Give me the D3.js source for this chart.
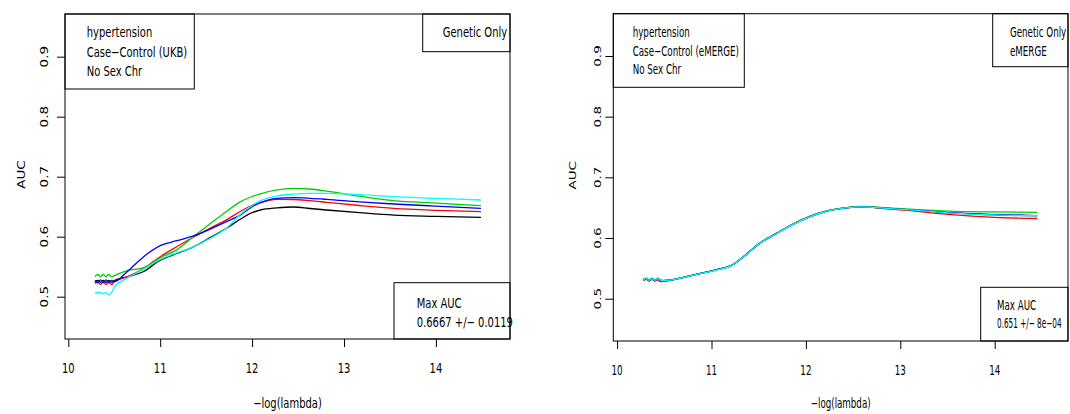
<!DOCTYPE html>
<html>
<head>
<meta charset="utf-8">
<script src="https://cdn.jsdelivr.net/npm/d3@7"></script>
<style>
  body { margin: 0; background: #fff; }
  svg { display: block; }
  text { font-family: "DejaVu Sans", sans-serif; fill: #000; }
</style>
</head>
<body>
<div id="chart"></div>
<script>
// series colours, R matplot order
var seriesNames = ["black", "red", "green3", "blue", "cyan"]
var seriesColors = ["#000000", "#ff0000", "#00cd00", "#0000ff", "#00ffff"]
var xTicks = [10, 11, 12, 13, 14]
var yTicks = [0.5, 0.6, 0.7, 0.8, 0.9]

// left panel: UKB
var lambdaUKB = [10.29, 10.32, 10.35, 10.38, 10.41, 10.44, 10.47, 10.50, 10.64, 10.82, 11.00, 11.18, 11.36, 11.54, 11.72, 11.87, 12.00, 12.09, 12.27, 12.45, 12.63, 12.81, 13.17, 13.54, 14.00, 14.49]
var ukbBlack = [0.525, 0.527, 0.524, 0.527, 0.524, 0.527, 0.524, 0.527, 0.533, 0.542, 0.561, 0.572, 0.583, 0.598, 0.614, 0.629, 0.640, 0.6445, 0.648, 0.6495, 0.647, 0.6445, 0.640, 0.636, 0.634, 0.6323]
var ukbRed = [0.522, 0.525, 0.520, 0.525, 0.520, 0.525, 0.520, 0.525, 0.533, 0.547, 0.5667, 0.5833, 0.599, 0.614, 0.628, 0.642, 0.652, 0.6567, 0.6623, 0.662, 0.660, 0.6573, 0.652, 0.6473, 0.644, 0.6417]
var ukbGreen = [0.533, 0.537, 0.533, 0.537, 0.533, 0.537, 0.533, 0.535, 0.5433, 0.5483, 0.565, 0.578, 0.600, 0.621, 0.642, 0.658, 0.667, 0.6715, 0.678, 0.6807, 0.6795, 0.676, 0.6675, 0.660, 0.656, 0.6517]
var ukbBlue = [0.527, 0.523, 0.528, 0.523, 0.528, 0.523, 0.527, 0.525, 0.5417, 0.5667, 0.585, 0.5933, 0.6012, 0.6123, 0.625, 0.636, 0.650, 0.6567, 0.664, 0.665, 0.664, 0.6623, 0.658, 0.6545, 0.651, 0.6473]
var ukbCyan = [0.5067, 0.507, 0.5067, 0.505, 0.5067, 0.503, 0.5067, 0.5157, 0.531, 0.546, 0.562, 0.573, 0.583, 0.597, 0.614, 0.637, 0.652, 0.660, 0.6678, 0.671, 0.6723, 0.6723, 0.670, 0.6667, 0.664, 0.6612]

// right panel: eMERGE
var lambdaEM = [10.28, 10.31, 10.34, 10.37, 10.40, 10.43, 10.46, 10.49, 10.81, 11.09, 11.20, 11.34, 11.51, 11.69, 11.87, 12.04, 12.22, 12.40, 12.61, 12.82, 13.10, 13.50, 14.00, 14.45]
var emBlack = [0.531, 0.533, 0.530, 0.533, 0.530, 0.533, 0.530, 0.5297, 0.539, 0.549, 0.5539, 0.5692, 0.5912, 0.6077, 0.6231, 0.6351, 0.6445, 0.6494, 0.6516, 0.6494, 0.6465, 0.642, 0.638, 0.6368]
var emRed = [0.530, 0.532, 0.529, 0.532, 0.529, 0.531, 0.528, 0.5285, 0.539, 0.549, 0.554, 0.5695, 0.5915, 0.608, 0.6238, 0.6358, 0.6448, 0.6494, 0.6512, 0.6485, 0.645, 0.639, 0.634, 0.6322]
var emGreen = [0.532, 0.534, 0.531, 0.534, 0.531, 0.534, 0.531, 0.530, 0.5393, 0.5492, 0.554, 0.5694, 0.5914, 0.6078, 0.6232, 0.6352, 0.6446, 0.6496, 0.652, 0.650, 0.6475, 0.6445, 0.643, 0.6423]
var emBlue = [0.531, 0.533, 0.530, 0.533, 0.530, 0.533, 0.530, 0.5297, 0.539, 0.549, 0.5538, 0.5691, 0.5911, 0.6076, 0.623, 0.635, 0.6444, 0.6493, 0.6515, 0.6494, 0.6465, 0.642, 0.639, 0.637]
var emCyan = [0.5315, 0.533, 0.5305, 0.533, 0.5305, 0.533, 0.5305, 0.5297, 0.5388, 0.5488, 0.5537, 0.569, 0.591, 0.6075, 0.6229, 0.6349, 0.6443, 0.6493, 0.6515, 0.6493, 0.6465, 0.6415, 0.638, 0.6368]

var panels = [
    {
        lambda: lambdaUKB,
        series: [ukbBlack, ukbRed, ukbGreen, ukbBlue, ukbCyan],
        box: {left: 65, right: 510, top: 14, bottom: 339},
        xRange: [68.3, 435.9], yRange: [296.7, 56.7],
        squish: 0.74,
        yLabelX: 48, ylabX: 24.6, xLabelY: 373.3, xlabY: 408,
        tl: {box: [65, 194.3, 14, 89], x: 86.7, ys: [37.3, 56.7, 75.7], lines: ["hypertension", "Case\u2212Control (UKB)", "No Sex Chr"]},
        tr: {box: [422.7, 510, 14, 51.7], x: 442.7, ys: [37.3], lines: ["Genetic Only"]},
        br: {box: [394, 510, 282.7, 339], x: 416.7, ys: [308.3, 326.7], lines: ["Max AUC", "0.6667 +/\u2212 0.0119"]}
    },
    {
        lambda: lambdaEM,
        series: [emBlack, emRed, emGreen, emBlue, emCyan],
        box: {left: 613.3, right: 1068, top: 13.7, bottom: 341},
        xRange: [617.1, 994.7], yRange: [298.7, 56],
        squish: 0.645,
        yLabelX: 600.7, ylabX: 576, xLabelY: 375, xlabY: 408,
        tl: {box: [613.3, 744.3, 13.7, 87.3], x: 632.7, ys: [36.7, 56, 74], lines: ["hypertension", "Case\u2212Control (eMERGE)", "No Sex Chr"]},
        tr: {box: [992.7, 1068, 13.7, 66.7], x: 1010, ys: [37.3, 55.7], lines: ["Genetic Only", "eMERGE"]},
        br: {box: [980.7, 1068, 287.3, 341], x: 997, ys: [310, 328.3], lines: ["Max AUC", "0.651 +/\u2212 8e\u221204"], lastSquish: 0.54}
    }
]

var svg = d3.select("#chart").append("svg")
    .attr("width", 1070).attr("height", 414)

panels.forEach(drawPanel)

function squishText(g, x, y, k, rotate) {
    return g.append("text")
        .attr("transform", "translate(" + [x, y] + ") scale(" + k + ",1)" + (rotate ? " rotate(-90)" : ""))
        .style("font-size", "13.5px")
}

function drawRect(g, b) {
    g.append("rect")
        .attr("x", b[0]).attr("y", b[2])
        .attr("width", b[1] - b[0]).attr("height", b[3] - b[2])
        .attr("fill", "none").attr("stroke", "#000").attr("stroke-width", 1)
}

function drawPanel(p) {
    var g = svg.append("g")
    var xScale = d3.scaleLinear().domain([10, 14]).range(p.xRange)
    var yScale = d3.scaleLinear().domain([0.5, 0.9]).range(p.yRange)

    // lines
    var line = d3.line()
        .x(function (d) { return xScale(d[0]) })
        .y(function (d) { return yScale(d[1]) })
        .curve(d3.curveMonotoneX)

    p.series.forEach(function (vals, i) {
        var pts = p.lambda.map(function (l, j) { return [l, vals[j]] })
        g.append("path")
            .datum(pts)
            .attr("d", line)
            .attr("fill", "none")
            .attr("stroke", seriesColors[i])
            .attr("stroke-width", 1.3)
    })

    // plot box
    var b = p.box
    drawRect(g, [b.left, b.right, b.top, b.bottom])

    // axes (ticks only, labels below)
    var xAxis = d3.axisBottom(xScale).tickValues(xTicks).tickSize(8).tickSizeOuter(0).tickFormat("")
    g.append("g").attr("transform", "translate(0," + b.bottom + ")").call(xAxis)
    var yAxis = d3.axisLeft(yScale).tickValues(yTicks).tickSize(8).tickSizeOuter(0).tickFormat("")
    g.append("g").attr("transform", "translate(" + b.left + ",0)").call(yAxis)
    g.selectAll(".domain").remove()
    g.selectAll(".tick line").attr("stroke", "#000")

    xTicks.forEach(function (t) {
        squishText(g, xScale(t), p.xLabelY, p.squish, false)
            .attr("text-anchor", "middle").text(t)
    })
    yTicks.forEach(function (t) {
        squishText(g, p.yLabelX, yScale(t), p.squish, true)
            .attr("text-anchor", "middle").text(d3.format(".1f")(t))
    })

    squishText(g, (b.left + b.right) / 2, p.xlabY, p.squish, false)
        .attr("text-anchor", "middle").text("\u2212log(lambda)")
    squishText(g, p.ylabX, (b.top + b.bottom) / 2 - 2, p.squish, true)
        .attr("text-anchor", "middle").text("AUC")

    // legend boxes
    ;[p.tl, p.tr, p.br].forEach(function (lg) {
        drawRect(g, lg.box)
        lg.lines.forEach(function (s, i) {
            // last line squeezed a bit more so it stays on the page
            var k = (lg.lastSquish && i == lg.lines.length - 1) ? lg.lastSquish : p.squish
            squishText(g, lg.x, lg.ys[i], k, false).text(s)
        })
    })
}
</script>
</body>
</html>
